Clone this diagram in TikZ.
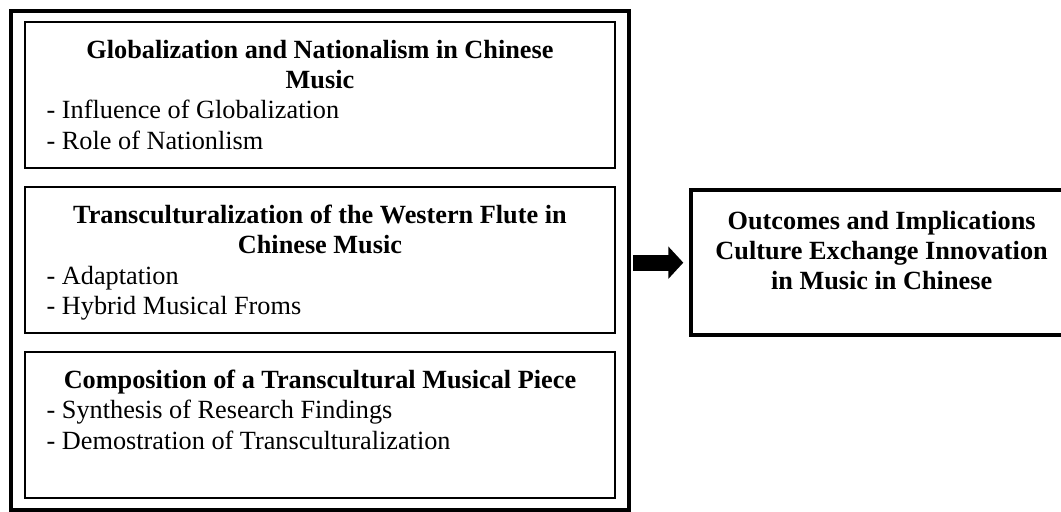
\documentclass[tikz,border=0pt]{standalone}
\usepackage{fontspec}
\setmainfont{Liberation Serif}
\usetikzlibrary{positioning}
\usetikzlibrary{arrows.meta}

\newcommand{\paneltext}[2]{\parbox[c][82.5pt][t]{410pt}{\centering\bfseries #1\par\raggedright\mdseries #2}}
\newcommand{\resulttext}[1]{\parbox[c][77.4pt][t]{265.5pt}{\centering\bfseries #1}}

\begin{document}
\begin{tikzpicture}[x=0.75pt,y=-0.75pt,node distance=12.75pt,
                    font=\fontsize{19.7pt}{22.75pt}\selectfont,
                    panel/.style={rectangle,draw,line width=1.5pt,inner xsep=16pt,inner ysep=13.5pt},
                    frame box/.style={rectangle,draw,line width=3pt,minimum width=463.5pt,minimum height=374.25pt},
                    result/.style={rectangle,draw,line width=3pt,inner xsep=10pt,inner ysep=15.5pt},
                    flow/.style={line width=12pt,-{Triangle[length=11.25pt,width=23.7pt]},shorten <=2pt,shorten >=4.5pt}]
\useasboundingbox (0,0) rectangle (1061,511);
\node[frame box] (frame) at (319.5,260) {};
\node[panel,anchor=north west] (glob) at (24.3,21) {\paneltext{Globalization and Nationalism in Chinese\\ Music}{- Influence of Globalization\\ - Role of Nationlism}};
\node[panel] (trans) [below=of glob] {\paneltext{Transculturalization of the Western Flute in\\ Chinese Music}{- Adaptation\\ - Hybrid Musical Froms}};
\node[panel] (comp) [below=of trans] {\paneltext{Composition of a Transcultural Musical Piece}{- Synthesis of Research Findings\\ - Demostration of Transculturalization}};
\node[result] (outcome) [right=44.1pt of frame, yshift=-2pt] {\resulttext{Outcomes and Implications\\ Culture Exchange Innovation\\ in Music in Chinese}};

\draw[flow] (frame.east |- outcome.west) -- (outcome.west);

\end{tikzpicture}
\end{document}
